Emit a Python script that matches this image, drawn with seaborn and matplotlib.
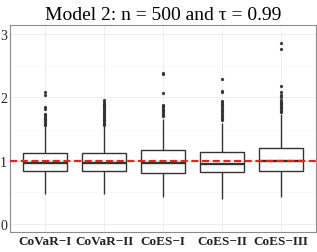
import numpy as np
import pandas as pd
import matplotlib
matplotlib.use("Agg")
import matplotlib.pyplot as plt
import seaborn as sns

# ---- data ----
categories = ["CoVaR\u2212I", "CoVaR\u2212II", "CoES\u2212I", "CoES\u2212II", "CoES\u2212III"]
q1 = [0.84, 0.84, 0.81, 0.82, 0.83]
median = [0.97, 0.96, 0.96, 0.95, 1.00]
q3 = [1.125, 1.125, 1.16, 1.14, 1.20]
whisker_lo = [0.48, 0.47, 0.42, 0.40, 0.42]
whisker_hi = [1.54, 1.54, 1.66, 1.60, 1.74]
outliers_covar1 = [2.08, 2.03, 1.85, 1.82, 1.74, 1.72, 1.70, 1.68, 1.66, 1.64, 1.62, 1.60, 1.58, 1.56]
outliers_covar2 = [1.95, 1.92, 1.90, 1.88, 1.86, 1.84, 1.82, 1.80, 1.77, 1.74, 1.72, 1.70, 1.68,
                   1.66, 1.64, 1.62, 1.60, 1.58, 1.56]
outliers_coes1 = [2.39, 2.37, 2.07, 1.88, 1.86, 1.84, 1.82, 1.80, 1.78, 1.76, 1.74, 1.72, 1.70]
outliers_coes2 = [2.29, 2.10, 2.08, 1.94, 1.92, 1.90, 1.88, 1.85, 1.82, 1.80, 1.78, 1.75, 1.72,
                  1.70, 1.68, 1.66, 1.64]
outliers_coes3 = [2.85, 2.76, 2.17, 2.08, 2.04, 2.00, 1.95, 1.93, 1.91, 1.89, 1.87, 1.85, 1.83,
                  1.81, 1.79, 1.77]
outliers = [outliers_covar1, outliers_covar2, outliers_coes1, outliers_coes2, outliers_coes3]
ref_value = 1.0
title = "Model 2: n = 500 and \u03c4 = 0.99"
yticks = [0, 1, 2, 3]

# build a sample per category that reproduces the box statistics
rows = []
for i, cat in enumerate(categories):
    vals = ([whisker_lo[i]] + [q1[i]] * 100 + [median[i]] * 100 + [q3[i]] * 100
            + [whisker_hi[i]] + list(outliers[i]))
    rows += [(cat, v) for v in vals]
df = pd.DataFrame(rows, columns=["method", "value"])

sns.set_theme(style="white")
plt.rcParams["font.family"] = ["Liberation Serif", "DejaVu Serif"]

fig = plt.figure(figsize=(3.17, 2.53), dpi=100)
ax = fig.add_axes([10 / 317, 20 / 253, 306 / 317, 207 / 253])

# grid
for y in yticks:
    ax.axhline(y, color="#ebebeb", lw=0.6, zorder=0)
for y in [0.5, 1.5, 2.5]:
    ax.axhline(y, color="#f5f5f5", lw=0.4, zorder=0)
for x in range(len(categories)):
    ax.axvline(x, color="#ebebeb", lw=0.6, zorder=0)

sns.boxplot(data=df, x="method", y="value", order=categories, ax=ax,
            width=0.75, linewidth=1.0, linecolor="#333333",
            boxprops=dict(facecolor="white", edgecolor="#333333", zorder=2),
            medianprops=dict(color="#333333", linewidth=1.7),
            whiskerprops=dict(color="#333333", linewidth=1.0),
            flierprops=dict(marker="o", markersize=2.0, markerfacecolor="#333333",
                            markeredgecolor="#333333", markeredgewidth=0.3),
            showcaps=False)

ax.axhline(ref_value, color="#ff1a1a", lw=1.6, ls=(0, (3.2, 1.6)), zorder=5)

ax.set_xlim(-0.6, 4.6)
ax.set_ylim(-0.126, 3.14)
ax.set_yticks(yticks)
ax.set_yticklabels([str(t) for t in yticks], fontsize=10)
ax.set_xticks(range(len(categories)))
ax.set_xticklabels(categories, fontsize=9.5, fontweight="bold")
ax.set_xlabel("")
ax.set_ylabel("")
ax.tick_params(axis="both", length=0, pad=2, colors="#222222")
for s in ax.spines.values():
    s.set_color("#8c8c8c")
    s.set_linewidth(0.8)
    s.set_visible(True)
ax.set_title(title, fontsize=14, pad=4, color="black")

fig.savefig("out.png", dpi=100)
